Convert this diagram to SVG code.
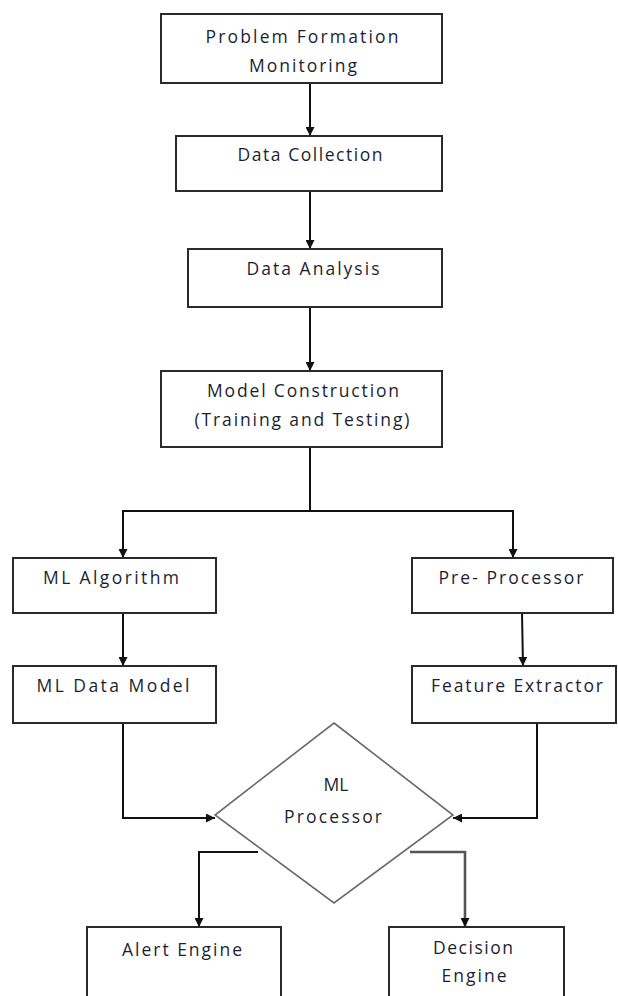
<svg xmlns="http://www.w3.org/2000/svg" width="618" height="996" viewBox="0 0 618 996">
<defs>
<marker id="ah" viewBox="0 0 10 10" refX="10" refY="5" markerWidth="9" markerHeight="9" markerUnits="userSpaceOnUse" orient="auto"><path d="M0,0 L10,5 L0,10 z" fill="#111"/></marker>
</defs>
<style>
.box{fill:#fff;stroke:#2a2a2a;stroke-width:2}
.dia{fill:#fff;stroke:#6a6a6a;stroke-width:1.6}
.lbl{font-family:"Open Sans","Liberation Sans",sans-serif;font-size:17.5px;fill:#1c1f33;text-anchor:middle}
.cn{fill:none;stroke:#111;stroke-width:2}
.cg{fill:none;stroke:#555;stroke-width:2.6}
</style>
<rect width="618" height="996" fill="#fff"/>
<g id="connectors">
<path class="cn" d="M310,83 V136" marker-end="url(#ah)"/>
<path class="cn" d="M310,191 V249" marker-end="url(#ah)"/>
<path class="cn" d="M310,307 V371" marker-end="url(#ah)"/>
<path class="cn" d="M310,447 V511"/>
<path class="cn" d="M310,511 H123 V558" marker-end="url(#ah)"/>
<path class="cn" d="M310,511 H513 V558" marker-end="url(#ah)"/>
<path class="cn" d="M123,613 V666" marker-end="url(#ah)"/>
<path class="cn" d="M522,613 L523,666" marker-end="url(#ah)"/>
<path class="cn" d="M123,723 V818 H215" marker-end="url(#ah)"/>
<path class="cn" d="M537,723 V818 H453" marker-end="url(#ah)"/>
<path class="cn" d="M258,852 H199 V927" marker-end="url(#ah)"/>
<path class="cg" d="M410,852 H465 V927" marker-end="url(#ah)"/>
</g>
<g id="n1"><rect class="box" x="161" y="14" width="281" height="69"/>
<text class="lbl" x="302" y="43" textLength="193" lengthAdjust="spacing">Problem Formation</text>
<text class="lbl" x="303" y="72" textLength="108" lengthAdjust="spacing">Monitoring</text></g>
<g id="n2"><rect class="box" x="176" y="136" width="266" height="55"/>
<text class="lbl" x="310" y="161" textLength="145" lengthAdjust="spacing">Data Collection</text></g>
<g id="n3"><rect class="box" x="188" y="249" width="254" height="58"/>
<text class="lbl" x="313" y="275" textLength="133" lengthAdjust="spacing">Data Analysis</text></g>
<g id="n4"><rect class="box" x="161" y="371" width="281" height="76"/>
<text class="lbl" x="303" y="397" textLength="192" lengthAdjust="spacing">Model Construction</text>
<text class="lbl" x="302" y="426" textLength="215" lengthAdjust="spacing">(Training and Testing)</text></g>
<g id="n5"><rect class="box" x="13" y="558" width="203" height="55"/>
<text class="lbl" x="111" y="584" textLength="136" lengthAdjust="spacing">ML Algorithm</text></g>
<g id="n6"><rect class="box" x="412" y="558" width="201" height="55"/>
<text class="lbl" x="511" y="584" textLength="145" lengthAdjust="spacing">Pre- Processor</text></g>
<g id="n7"><rect class="box" x="13" y="666" width="203" height="57"/>
<text class="lbl" x="113" y="692" textLength="153" lengthAdjust="spacing">ML Data Model</text></g>
<g id="n8"><rect class="box" x="412" y="666" width="204" height="57"/>
<text class="lbl" x="517" y="692" textLength="172" lengthAdjust="spacing">Feature Extractor</text></g>
<g id="n9"><polygon class="dia" points="334,723 453,815 334,903 215,815"/>
<text class="lbl" x="336" y="791">ML</text>
<text class="lbl" x="333" y="823" textLength="98" lengthAdjust="spacing">Processor</text></g>
<g id="n10"><rect class="box" x="87" y="927" width="194" height="90"/>
<text class="lbl" x="182" y="956" textLength="120" lengthAdjust="spacing">Alert Engine</text></g>
<g id="n11"><rect class="box" x="389" y="927" width="175" height="90"/>
<text class="lbl" x="473" y="954" textLength="80" lengthAdjust="spacing">Decision</text>
<text class="lbl" x="474" y="982" textLength="65" lengthAdjust="spacing">Engine</text></g>
</svg>
